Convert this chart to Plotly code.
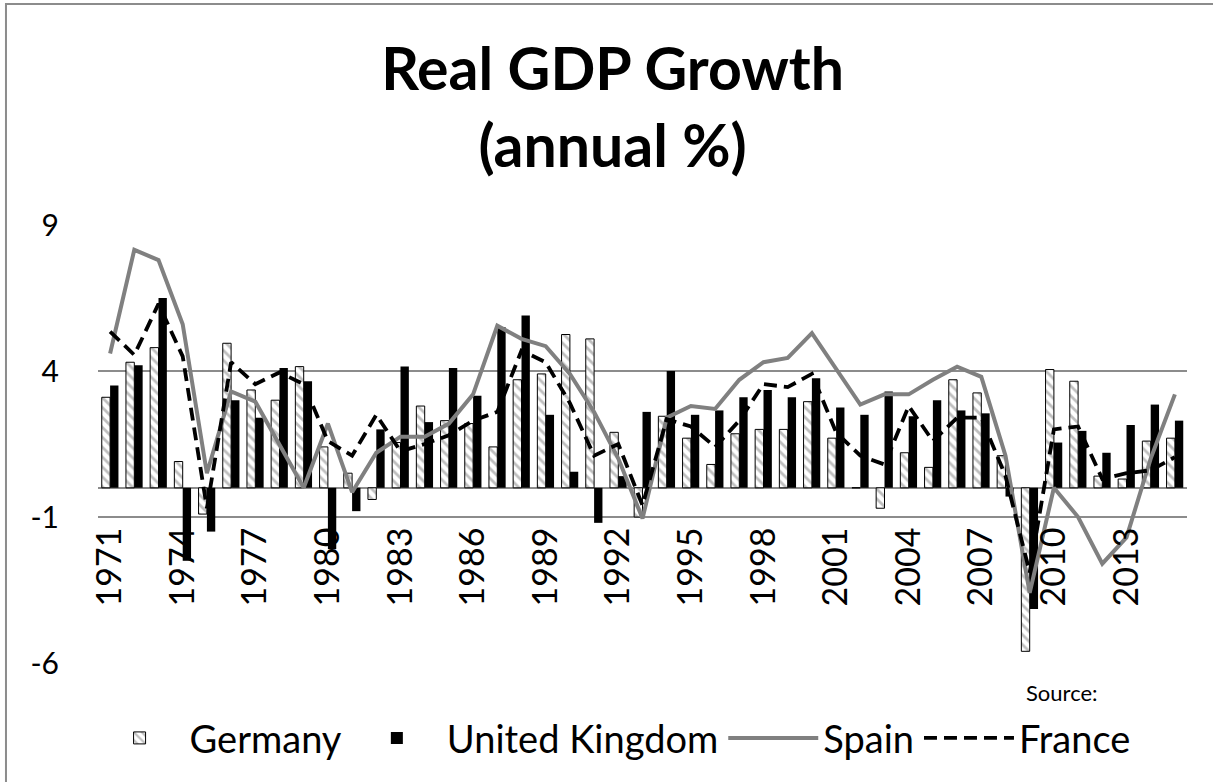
import plotly.graph_objects as go

years = list(range(1971, 2016))

germany = [3.1, 4.3, 4.8, 0.9, -0.9, 4.95, 3.35, 3.0, 4.15, 1.4,
           0.5, -0.4, 1.55, 2.8, 2.3, 2.2, 1.4, 3.7, 3.9, 5.25,
           5.1, 1.9, -1.0, 2.45, 1.7, 0.8, 1.85, 2.0, 2.0, 2.95,
           1.7, 0.0, -0.7, 1.2, 0.7, 3.7, 3.25, 1.1, -5.6, 4.05,
           3.65, 0.4, 0.3, 1.6, 1.7]

uk = [3.5, 4.2, 6.5, -2.5, -1.5, 3.0, 2.4, 4.1, 3.65, -2.1,
      -0.8, 2.0, 4.15, 2.25, 4.1, 3.15, 5.5, 5.9, 2.5, 0.55,
      -1.2, 0.4, 2.6, 4.0, 2.5, 2.65, 3.1, 3.35, 3.1, 3.75,
      2.75, 2.5, 3.3, 2.45, 3.0, 2.65, 2.55, -0.3, -4.15, 1.55,
      1.95, 1.2, 2.15, 2.85, 2.3]

spain = [4.6, 8.15, 7.8, 5.6, 0.5, 3.3, 2.95, 1.5, 0.0, 2.2,
         -0.15, 1.2, 1.75, 1.75, 2.2, 3.2, 5.55, 5.1, 4.85, 3.9,
         2.6, 1.0, -1.05, 2.4, 2.8, 2.7, 3.7, 4.3, 4.45, 5.3,
         4.05, 2.85, 3.2, 3.2, 3.7, 4.15, 3.8, 1.1, -3.6, 0.0,
         -1.0, -2.6, -1.7, 1.0, 3.2]

france = [5.35, 4.55, 6.3, 4.5, -0.7, 4.3, 3.55, 3.95, 3.55, 1.6,
          1.1, 2.5, 1.25, 1.5, 1.8, 2.3, 2.6, 4.7, 4.3, 2.9,
          1.1, 1.5, -0.6, 2.35, 2.1, 1.4, 2.3, 3.55, 3.45, 3.9,
          1.9, 1.1, 0.8, 2.8, 1.6, 2.4, 2.4, 0.4, -2.9, 2.0,
          2.1, 0.3, 0.5, 0.6, 1.05]

x_tick_years = years[::3]
y_ticks = [-6, -1, 4, 9]

FONT = "Lato, 'Open Sans', sans-serif"
GRID = "#8c8c8c"

fig = go.Figure()
fig.add_trace(go.Bar(
    x=years, y=germany, name="Germany",
    marker=dict(color="white",
                line=dict(color="black", width=1),
                pattern=dict(shape="\\", fgcolor="#808080", bgcolor="white",
                             size=7, solidity=0.4)),
))
fig.add_trace(go.Bar(
    x=years, y=uk, name="United Kingdom",
    marker=dict(color="black", line=dict(color="black", width=0)),
))
fig.add_trace(go.Scatter(
    x=years, y=spain, name="Spain", mode="lines",
    line=dict(color="#808080", width=4),
))
fig.add_trace(go.Scatter(
    x=years, y=france, name="France", mode="lines",
    line=dict(color="black", width=3.8, dash="13px,7px"),
))

fig.update_layout(
    width=1213, height=782,
    margin=dict(l=98, r=26, t=225, b=119, autoexpand=False),
    paper_bgcolor="white", plot_bgcolor="white",
    barmode="group", bargap=0.31, bargroupgap=0,
    font=dict(family=FONT, color="black"),
    title=dict(text="<b>Real GDP Growth<br>(annual %)</b>",
               font=dict(family=FONT, size=59, color="black"),
               x=0.505, xref="container", xanchor="center",
               y=0.885, yref="container", yanchor="top"),
    showlegend=True,
    legend=dict(orientation="h", x=0.505, xref="container", xanchor="center",
                y=0.056, yref="container", yanchor="middle",
                font=dict(family=FONT, size=38, color="black"),
                itemwidth=90, traceorder="normal", bgcolor="rgba(0,0,0,0)"),
    xaxis=dict(
        range=[1970.5, 2015.5], tickmode="array",
        tickvals=x_tick_years, ticktext=[str(v) for v in x_tick_years],
        tickangle=-90, tickfont=dict(family=FONT, size=34, color="black"),
        showgrid=False, zeroline=False, showline=False, ticks="",
        anchor="free", position=0.4, ticklabelstandoff=32, automargin=False,
    ),
    yaxis=dict(
        range=[-6, 9], tickmode="array", tickvals=y_ticks,
        ticktext=[str(v) for v in y_ticks],
        tickfont=dict(family=FONT, size=30, color="black"),
        showgrid=True, gridcolor=GRID, gridwidth=1.5,
        zeroline=True, zerolinecolor=GRID, zerolinewidth=1.5,
        showline=False, ticks="", ticklabelstandoff=38, automargin=False,
    ),
    annotations=[dict(text="Source:", xref="paper", yref="paper",
                      x=0.92, y=-0.068, xanchor="right", yanchor="middle",
                      showarrow=False,
                      font=dict(family=FONT, size=22, color="black"))],
    shapes=[dict(type="rect", xref="paper", yref="paper",
                 x0=-0.0845, x1=1.05, y0=-0.3, y1=1.5046,
                 line=dict(color=GRID, width=2), fillcolor="rgba(0,0,0,0)",
                 layer="below")],
)

fig.write_html(
    "out.html",
    config={"displayModeBar": False},
    post_script="document.body.style.margin='0';document.body.style.overflow='hidden';",
)
